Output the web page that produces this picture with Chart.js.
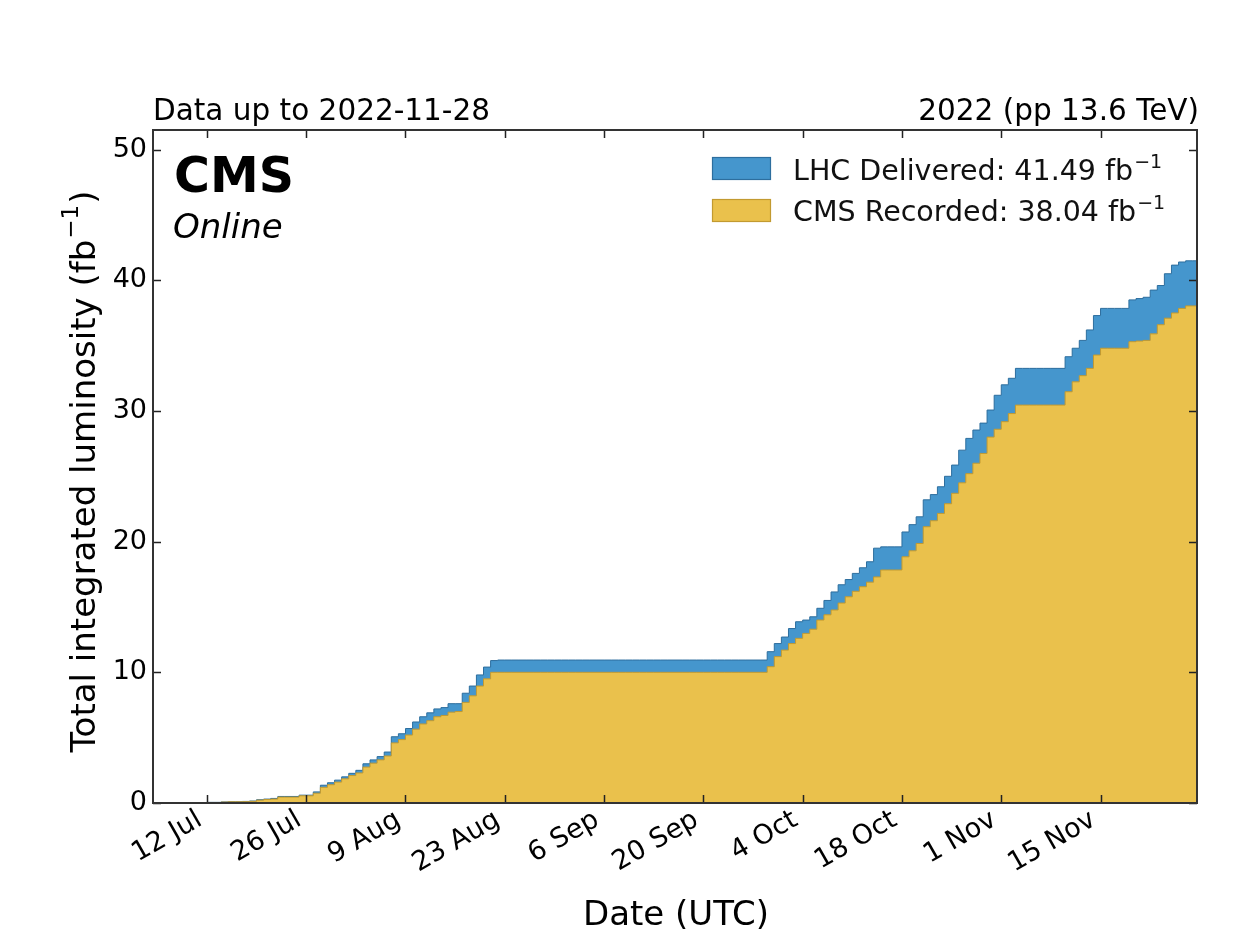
<!DOCTYPE html>
<html>
<head>
<meta charset="utf-8">
<script src="https://cdn.jsdelivr.net/npm/chart.js@4.4.1/dist/chart.umd.min.js"></script>
<style>
  body { margin: 0; background: #fff; }
  canvas { display: block; }
</style>
</head>
<body>
<canvas id="lumi" width="1256" height="934"></canvas>
<script>
// days counted from 12 Jul 2022 (day 0) up to 28 Nov 2022 (day 139)
let firstDay = 0
let xMin = -7.6
let xMax = 139.6

let xTickDays = [0, 14, 28, 42, 56, 70, 84, 98, 112, 126]
let xTickLabels = ['12 Jul', '26 Jul', '9 Aug', '23 Aug', '6 Sep', '20 Sep', '4 Oct', '18 Oct', '1 Nov', '15 Nov']
let yTicks = [0, 10, 20, 30, 40, 50]

// cumulative integrated luminosity per day, fb^-1
let delivered = [
  0, 0.05, 0.05, 0.08, 0.1, 0.1, 0.12, 0.15, 0.25, 0.3,
  0.35, 0.5, 0.5, 0.5, 0.6, 0.6, 0.85, 1.36, 1.55, 1.75,
  2.0, 2.27, 2.5, 3.0, 3.3, 3.55, 3.9, 5.07, 5.3, 5.7,
  6.2, 6.6, 6.9, 7.2, 7.3, 7.6, 7.6, 8.4, 8.95, 9.8,
  10.4, 10.9, 10.94, 10.94, 10.94, 10.94, 10.94, 10.94, 10.94, 10.94,
  10.94, 10.94, 10.94, 10.94, 10.94, 10.94, 10.94, 10.94, 10.94, 10.94,
  10.94, 10.94, 10.94, 10.94, 10.94, 10.94, 10.94, 10.94, 10.94, 10.94,
  10.94, 10.94, 10.94, 10.94, 10.94, 10.94, 10.94, 10.94, 10.94, 10.94,
  11.58, 12.2, 12.7, 13.35, 13.87, 14.0, 14.25, 14.9, 15.5, 16.15,
  16.7, 17.1, 17.57, 18.0, 18.46, 19.5, 19.6, 19.6, 19.6, 20.74,
  21.3, 21.9, 23.2, 23.6, 24.2, 25.0, 25.86, 27.0, 27.9, 28.54,
  29.07, 30.07, 31.2, 32.0, 32.5, 33.26, 33.26, 33.26, 33.26, 33.26,
  33.26, 33.26, 34.15, 34.8, 35.4, 36.2, 37.3, 37.85, 37.85, 37.85,
  37.85, 38.5, 38.6, 38.7, 39.25, 39.6, 40.5, 41.16, 41.4, 41.49
]
let recorded = [
  0, 0.04, 0.04, 0.07, 0.09, 0.09, 0.1, 0.13, 0.22, 0.27,
  0.3, 0.45, 0.45, 0.45, 0.55, 0.55, 0.75, 1.2, 1.4, 1.6,
  1.85, 2.1, 2.3, 2.75, 3.05, 3.3, 3.6, 4.6, 4.85, 5.2,
  5.65, 6.05, 6.3, 6.6, 6.7, 6.95, 7.0, 7.7, 8.2, 8.95,
  9.5, 10.0, 10.0, 10.0, 10.0, 10.0, 10.0, 10.0, 10.0, 10.0,
  10.0, 10.0, 10.0, 10.0, 10.0, 10.0, 10.0, 10.0, 10.0, 10.0,
  10.0, 10.0, 10.0, 10.0, 10.0, 10.0, 10.0, 10.0, 10.0, 10.0,
  10.0, 10.0, 10.0, 10.0, 10.0, 10.0, 10.0, 10.0, 10.0, 10.0,
  10.43, 11.2, 11.7, 12.2, 12.6, 12.98, 13.3, 14.0, 14.4, 14.77,
  15.3, 15.78, 16.2, 16.55, 16.9, 17.3, 17.83, 17.83, 17.83, 18.84,
  19.3, 19.86, 21.14, 21.6, 22.16, 22.9, 23.7, 24.5, 25.2, 26.0,
  26.75, 28.0, 28.6, 29.18, 29.8, 30.45, 30.45, 30.45, 30.45, 30.45,
  30.45, 30.45, 31.47, 32.23, 32.7, 33.26, 34.28, 34.8, 34.8, 34.8,
  34.8, 35.3, 35.35, 35.4, 35.9, 36.6, 37.1, 37.5, 37.85, 38.04
]

let deliveredLabel = 'LHC Delivered: 41.49 fb'
let recordedLabel = 'CMS Recorded: 38.04 fb'

let blue = '#4596cd'
let blueEdge = '#2d6e9e'
let yellow = '#eac14c'
let yellowEdge = '#c29a30'
let FONT = '"DejaVu Sans", sans-serif'

function toPoints(values) {
    let pts = values.map((v, i) => ({ x: firstDay + i, y: v }))
    // hold the last day's value up to the right edge
    pts.push({ x: xMax, y: values[values.length - 1] })
    return pts
}

// text with a "-1" exponent after it
function supText(ctx, base, tail, x, y, size, align) {
    ctx.font = size + 'px ' + FONT
    let wBase = ctx.measureText(base).width
    let supSize = Math.round(size * 0.68)
    ctx.font = supSize + 'px ' + FONT
    let wSup = ctx.measureText('\u22121').width
    ctx.font = size + 'px ' + FONT
    let wTail = tail ? ctx.measureText(tail).width : 0
    let total = wBase + wSup + 2 + wTail
    let x0 = align == 'center' ? x - total / 2 : x
    ctx.textAlign = 'left'
    ctx.fillText(base, x0, y)
    ctx.font = supSize + 'px ' + FONT
    ctx.fillText('\u22121', x0 + wBase + 1, y - size * 0.42)
    if (tail) {
        ctx.font = size + 'px ' + FONT
        ctx.fillText(tail, x0 + wBase + wSup + 2, y)
    }
}

let decorPlugin = {
    id: 'decor',
    afterDatasetsDraw(chart) {
        let ctx = chart.ctx
        let a = chart.chartArea
        let xs = chart.scales.x
        let ys = chart.scales.y
        ctx.save()
        ctx.strokeStyle = '#222'
        ctx.lineWidth = 1.5
        let tl = 8
        ctx.beginPath()
        for (let i = 0; i < xTickDays.length; i++) {
            let px = Math.round(xs.getPixelForValue(xTickDays[i])) + 0.5
            ctx.moveTo(px, a.bottom); ctx.lineTo(px, a.bottom - tl)
            ctx.moveTo(px, a.top); ctx.lineTo(px, a.top + tl)
        }
        for (let i = 0; i < yTicks.length; i++) {
            let py = Math.round(ys.getPixelForValue(yTicks[i])) + 0.5
            ctx.moveTo(a.left, py); ctx.lineTo(a.left + tl, py)
            ctx.moveTo(a.right, py); ctx.lineTo(a.right - tl, py)
        }
        ctx.stroke()
        ctx.strokeStyle = '#333'
        ctx.lineWidth = 2
        ctx.strokeRect(a.left, a.top, a.right - a.left, a.bottom - a.top)
        ctx.restore()
    },
    afterDraw(chart) {
        let ctx = chart.ctx
        let a = chart.chartArea
        ctx.save()
        ctx.fillStyle = '#000'
        ctx.textBaseline = 'alphabetic'

        ctx.font = '29.5px ' + FONT
        ctx.textAlign = 'left'
        ctx.fillText('Data up to 2022-11-28', a.left, a.top - 10)
        ctx.textAlign = 'right'
        ctx.fillText('2022 (pp 13.6 TeV)', a.right + 2, a.top - 10)

        ctx.textAlign = 'left'
        ctx.font = 'bold 49px ' + FONT
        ctx.fillText('CMS', a.left + 21, a.top + 62)
        ctx.font = 'italic 34px ' + FONT
        ctx.fillText('Online', a.left + 20, a.top + 108)

        // legend
        let lx = 712, lw = 59, lh = 23
        ctx.lineWidth = 1.2
        ctx.fillStyle = blue; ctx.strokeStyle = blueEdge
        ctx.fillRect(lx, 157, lw, lh); ctx.strokeRect(lx + 0.5, 157.5, lw - 1, lh - 1)
        ctx.fillStyle = yellow; ctx.strokeStyle = yellowEdge
        ctx.fillRect(lx, 199, lw, lh); ctx.strokeRect(lx + 0.5, 199.5, lw - 1, lh - 1)
        ctx.fillStyle = '#111'
        supText(ctx, deliveredLabel, '', 793, 180, 28.5, 'left')
        supText(ctx, recordedLabel, '', 793, 221, 28.5, 'left')

        // axis titles
        ctx.fillStyle = '#000'
        ctx.font = '34px ' + FONT
        ctx.textAlign = 'center'
        ctx.fillText('Date (UTC)', (a.left + a.right) / 2 + 1, 925)
        ctx.translate(86, (a.top + a.bottom) / 2 + 5)
        ctx.rotate(-Math.PI / 2)
        ctx.textBaseline = 'middle'
        supText(ctx, 'Total integrated luminosity (fb', ')', 0, 0, 34, 'center')
        ctx.restore()
    }
}

let ctx = document.getElementById('lumi').getContext('2d')
let lumiChart = new Chart(ctx, {
    type: 'line',
    data: {
        datasets: [{
            label: deliveredLabel,
            data: toPoints(delivered),
            stepped: 'after',
            fill: 'origin',
            backgroundColor: blue,
            borderColor: blueEdge,
            borderWidth: 1,
            pointRadius: 0,
            order: 2
        }, {
            label: recordedLabel,
            data: toPoints(recorded),
            stepped: 'after',
            fill: 'origin',
            backgroundColor: yellow,
            borderColor: yellowEdge,
            borderWidth: 1,
            pointRadius: 0,
            order: 1
        }]
    },
    options: {
        responsive: false,
        animation: false,
        devicePixelRatio: 1,
        layout: { padding: { left: 0, right: 59, top: 130, bottom: 0 } },
        plugins: {
            legend: { display: false },
            tooltip: { enabled: false }
        },
        scales: {
            x: {
                type: 'linear',
                min: xMin,
                max: xMax,
                grid: { display: false, drawTicks: false },
                border: { display: false },
                afterBuildTicks: (scale) => { scale.ticks = xTickDays.map(v => ({ value: v })) },
                afterFit: (scale) => { scale.height = 131 },
                ticks: {
                    autoSkip: false,
                    minRotation: 30,
                    maxRotation: 30,
                    padding: 1,
                    labelOffset: -7,
                    color: '#000',
                    font: { family: FONT, size: 27 },
                    callback: (v) => xTickLabels[xTickDays.indexOf(v)]
                }
            },
            y: {
                min: 0,
                max: 51.5,
                grid: { display: false, drawTicks: false },
                border: { display: false },
                afterBuildTicks: (scale) => { scale.ticks = yTicks.map(v => ({ value: v })) },
                afterFit: (scale) => { scale.width = 153 },
                ticks: {
                    padding: 6,
                    color: '#000',
                    font: { family: FONT, size: 27 }
                }
            }
        }
    },
    plugins: [decorPlugin]
})
</script>
</body>
</html>
